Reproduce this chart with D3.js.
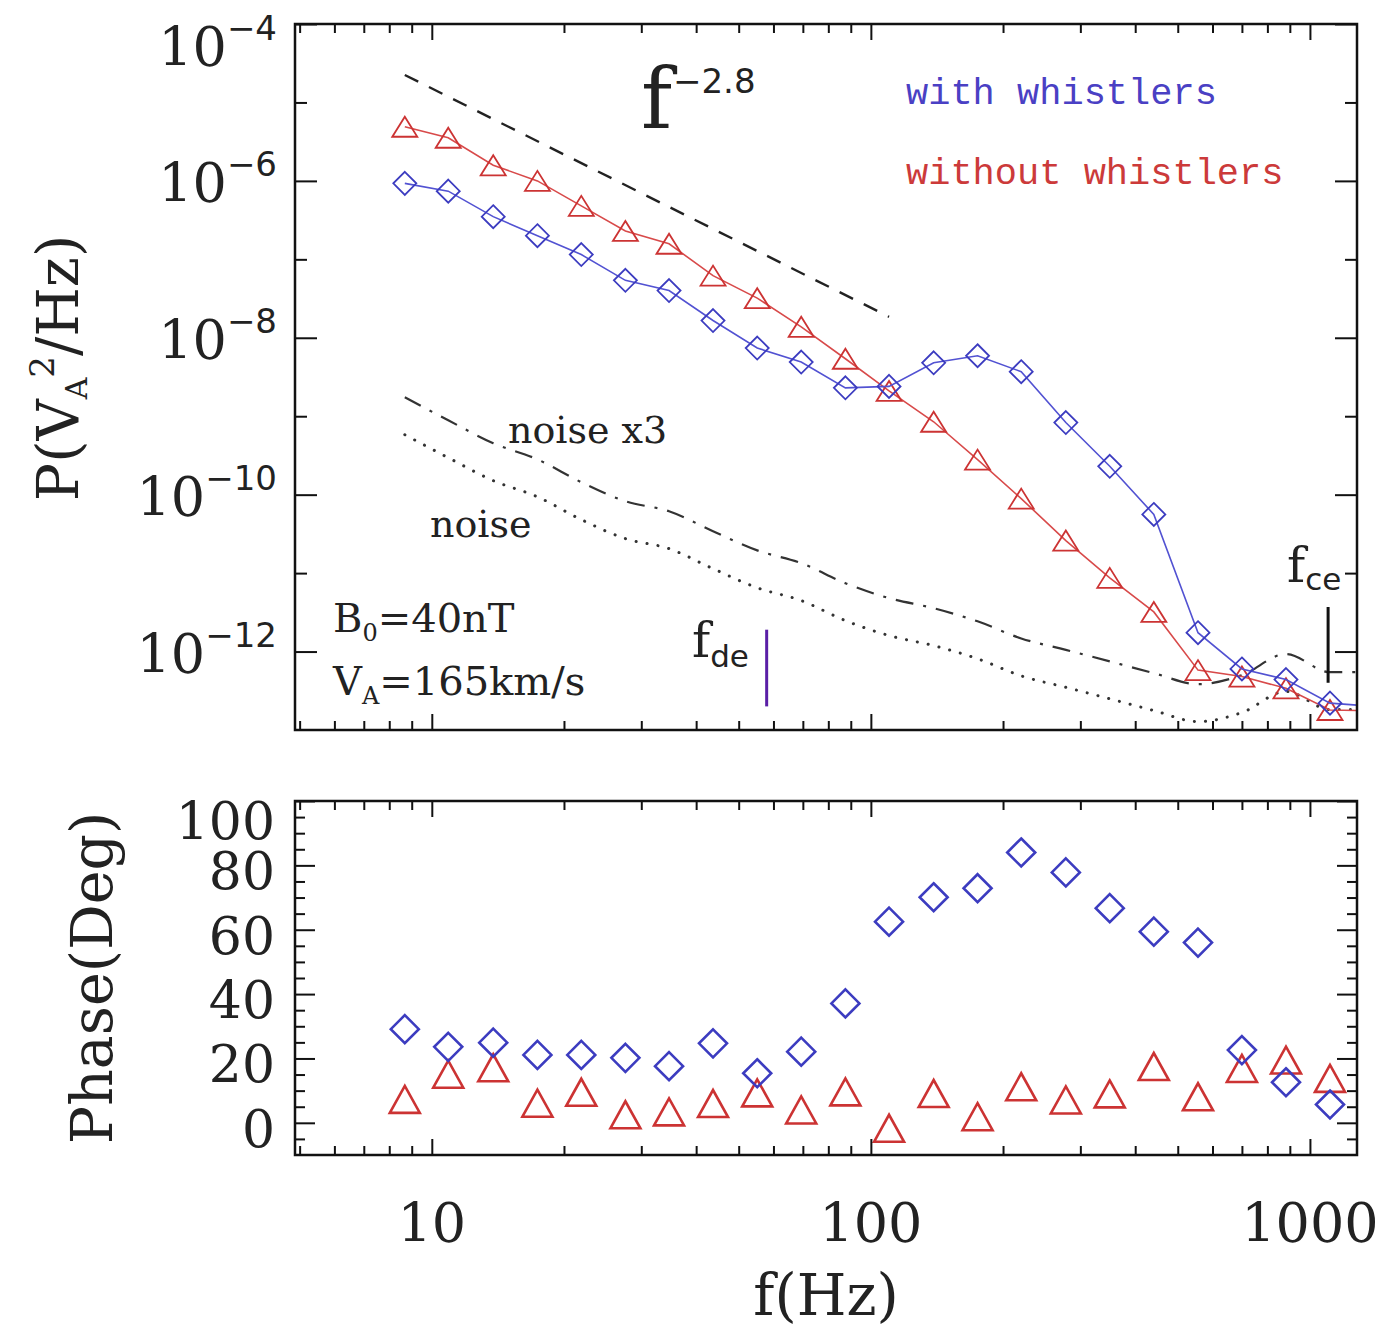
<!DOCTYPE html>
<html>
<head>
<meta charset="utf-8">
<script src="https://cdn.jsdelivr.net/npm/d3@7"></script>
<style>
  body { margin: 0; background: #fff; }
  svg text { fill: #222; }
  .tk line { stroke: #111; stroke-width: 2; }
</style>
</head>
<body>
<svg width="1383" height="1328"></svg>
<script>
// data: 1/3 octave bands (Hz); last band sits just past the right edge
var freq = [8.68, 10.9, 13.8, 17.4, 21.9, 27.6, 34.7, 43.7, 55.1, 69.4, 87.5, 110,
            139, 175, 220, 278, 350, 441, 556, 700, 882, 1111, 1400];

// power spectra P(VA^2/Hz)
var powWith = [9.3e-7, 7.4e-7, 3.5e-7, 2.0e-7, 1.15e-7, 5.4e-8, 4.0e-8, 1.66e-8, 7.4e-9, 4.9e-9,
               2.3e-9, 2.4e-9, 4.8e-9, 5.9e-9, 3.7e-9, 8.3e-10, 2.3e-10, 5.6e-11, 1.74e-12, 6.0e-13,
               4.4e-13, 2.2e-13, 2.0e-13];
var powWithout = [4.9e-6, 3.55e-6, 1.58e-6, 1.0e-6, 4.8e-7, 2.3e-7, 1.58e-7, 6.2e-8, 3.2e-8, 1.38e-8,
                  5.4e-9, 2.1e-9, 8.5e-10, 2.8e-10, 8.9e-11, 2.6e-11, 8.7e-12, 3.2e-12, 5.8e-13, 4.8e-13,
                  3.4e-13, 1.8e-13, 1.75e-13];
var noise = [5.81e-10, 2.96e-10, 1.51e-10, 9.4e-11, 4.81e-11, 2.75e-11, 2.05e-11, 1.14e-11, 6.5e-12, 4.47e-12,
             2.48e-12, 1.60e-12, 1.19e-12, 8.1e-13, 4.9e-13, 3.5e-13, 2.5e-13, 1.77e-13, 1.28e-13, 1.67e-13,
             3.1e-13, 1.82e-13, 1.82e-13];
var noiseX3 = noise.map(function(v) { return 3 * v; });

// phase (deg), one value per visible band
var phaseWith = [29.1, 23.6, 24.9, 21.1, 21.1, 20.2, 17.6, 24.7, 15.4, 22.1, 37.1,
                 62.5, 70.1, 72.9, 84.0, 77.8, 66.7, 59.4, 56.0, 22.6, 12.6, 5.7];
var phaseWithout = [7.3, 15.1, 17.1, 6.1, 9.5, 2.5, 3.4, 6.0, 9.3, 4.0, 9.6,
                    -1.7, 9.1, 1.9, 11.2, 7.1, 9.0, 17.5, 8.1, 16.9, 19.5, 13.8];

// f^-2.8 reference line end points
var slopeF = [8.68, 110];
var slopeP = [2.24e-5, 1.85e-8];

// characteristic frequencies and the extent of their markers
var fde = 57.9, fdeP = [1.9e-12, 2.0e-13];
var fce = 1100, fceP = [3.7e-12, 4.0e-13];

// ticks
var pTicks = [1e-4, 1e-6, 1e-8, 1e-10, 1e-12];
var pTickExp = ["\u22124", "\u22126", "\u22128", "\u221210", "\u221212"];
var pMinor = [1e-5, 1e-7, 1e-9, 1e-11];
var fTicks = [10, 100, 1000];
var fTickLabels = ["10", "100", "1000"];
var phTicks = [0, 20, 40, 60, 80, 100];
var phMinor = [-5, 5, 10, 15, 25, 30, 35, 45, 50, 55, 65, 70, 75, 85, 90, 95];

var blue = "#3c3cc0", blueLine = "#5252d2";
var red = "#cc3333", redLine = "#d84a4a";
var serif = "DejaVu Serif", sans = "DejaVu Sans";

var svg = d3.select("svg");
var left = 295, right = 1357,
    top1 = 24, bot1 = 730,
    top2 = 801, bot2 = 1155;

var x = d3.scaleLog().domain([4.88, 1280]).range([left, right]);
var y = d3.scaleLog().domain([1e-13, 1e-4]).range([bot1, top1]);
var yp = d3.scaleLinear().domain([-10, 100]).range([bot2, top2]);

var fMinor = [];
[1, 10, 100].forEach(function(d) {
  for (var m = 2; m <= 9; m++) {
    var v = m * d;
    if (v >= x.domain()[0] && v <= x.domain()[1]) fMinor.push(v);
  }
});

// inward ticks, no domain line (frame is drawn separately)
function tickSet(axis, vals, len, tx, ty) {
  svg.append("g")
    .attr("class", "tk")
    .attr("transform", "translate(" + tx + "," + ty + ")")
    .call(axis.tickValues(vals).tickSizeInner(-len).tickSizeOuter(0).tickFormat(""))
    .call(function(g) { g.select(".domain").remove(); });
}

function frame(y0, y1, yScale, yMaj, yMin, yMajLen, yMinLen) {
  tickSet(d3.axisBottom(x), fTicks, 16, 0, y1);
  tickSet(d3.axisBottom(x), fMinor, 9, 0, y1);
  tickSet(d3.axisTop(x), fTicks, 16, 0, y0);
  tickSet(d3.axisTop(x), fMinor, 9, 0, y0);
  tickSet(d3.axisLeft(yScale), yMaj, yMajLen, left, 0);
  tickSet(d3.axisLeft(yScale), yMin, yMinLen, left, 0);
  tickSet(d3.axisRight(yScale), yMaj, yMajLen, right, 0);
  tickSet(d3.axisRight(yScale), yMin, yMinLen, right, 0);
  svg.append("rect")
    .attr("x", left).attr("y", y0)
    .attr("width", right - left).attr("height", y1 - y0)
    .attr("fill", "none").attr("stroke", "#111").attr("stroke-width", 2.5);
}

function diamond(h) { return "M0," + (-h) + "L" + h + ",0L0," + h + "L" + (-h) + ",0Z"; }
function triangle(w, h) { return "M" + (-w) + "," + h + "L0," + (-h) + "L" + w + "," + h + "Z"; }

svg.append("clipPath").attr("id", "clip1")
  .append("rect").attr("x", left).attr("y", top1).attr("width", right - left).attr("height", bot1 - top1);
svg.append("clipPath").attr("id", "clip2")
  .append("rect").attr("x", left).attr("y", top2).attr("width", right - left).attr("height", bot2 - top2);

// ---------- top panel ----------
var p1 = svg.append("g").attr("clip-path", "url(#clip1)");

var line = d3.line().x(function(d) { return x(d[0]); }).y(function(d) { return y(d[1]); });
var smooth = d3.line().x(function(d) { return x(d[0]); }).y(function(d) { return y(d[1]); })
  .curve(d3.curveMonotoneX);

p1.append("path")
  .attr("d", smooth(freq.map(function(f, i) { return [f, noiseX3[i]]; })))
  .attr("fill", "none").attr("stroke", "#333").attr("stroke-width", 2.2)
  .attr("stroke-dasharray", "18,10,3,10");

p1.append("path")
  .attr("d", smooth(freq.map(function(f, i) { return [f, noise[i]]; })))
  .attr("fill", "none").attr("stroke", "#333").attr("stroke-width", 3)
  .attr("stroke-linecap", "round").attr("stroke-dasharray", "0.1,11");

p1.append("path")
  .attr("d", line(slopeF.map(function(f, i) { return [f, slopeP[i]]; })))
  .attr("fill", "none").attr("stroke", "#222").attr("stroke-width", 2.4)
  .attr("stroke-dasharray", "15,12");

var without = freq.map(function(f, i) { return [f, powWithout[i]]; });
var withW = freq.map(function(f, i) { return [f, powWith[i]]; });

p1.append("path").attr("d", line(without))
  .attr("fill", "none").attr("stroke", redLine).attr("stroke-width", 1.6);
p1.selectAll(".tri1").data(without).enter().append("path")
  .attr("class", "tri1")
  .attr("transform", function(d) { return "translate(" + x(d[0]) + "," + y(d[1]) + ")"; })
  .attr("d", triangle(12.5, 10))
  .attr("fill", "none").attr("stroke", red).attr("stroke-width", 1.8);

p1.append("path").attr("d", line(withW))
  .attr("fill", "none").attr("stroke", blueLine).attr("stroke-width", 1.6);
p1.selectAll(".dia1").data(withW).enter().append("path")
  .attr("class", "dia1")
  .attr("transform", function(d) { return "translate(" + x(d[0]) + "," + y(d[1]) + ")"; })
  .attr("d", diamond(11.5))
  .attr("fill", "none").attr("stroke", blue).attr("stroke-width", 1.8);

// f_de and f_ce markers
svg.append("line")
  .attr("x1", x(fde)).attr("x2", x(fde)).attr("y1", y(fdeP[0])).attr("y2", y(fdeP[1]))
  .attr("stroke", "#5a1fa6").attr("stroke-width", 3);
svg.append("line")
  .attr("x1", x(fce)).attr("x2", x(fce)).attr("y1", y(fceP[0])).attr("y2", y(fceP[1]))
  .attr("stroke", "#111").attr("stroke-width", 3);

frame(top1, bot1, y, pTicks, pMinor, 22, 12);

// y tick labels, top panel (top one pushed inside like the original)
pTicks.forEach(function(v, i) {
  var t = svg.append("text")
    .attr("x", 277).attr("y", y(v) + (i === 0 ? 42 : 21))
    .attr("text-anchor", "end")
    .style("font-family", serif).style("font-size", "54px");
  t.append("tspan").text("10");
  t.append("tspan").attr("dy", -26)
    .style("font-family", sans).style("font-size", "34px").text(pTickExp[i]);
});

// y label top
var yl = svg.append("text")
  .attr("transform", "translate(78," + 368 + ") rotate(-90)")
  .attr("text-anchor", "middle")
  .style("font-family", serif).style("font-size", "57px");
yl.append("tspan").text("P(V");
yl.append("tspan").attr("dy", 9).style("font-size", "30px").text("A");
yl.append("tspan").attr("dy", -33).style("font-size", "34px").text("2");
yl.append("tspan").attr("dy", 24).text("/Hz)");

// annotations
svg.append("text").attr("x", 641).attr("y", 128)
  .style("font-family", serif).style("font-size", "84px").text("f");
svg.append("text").attr("x", 673).attr("y", 93)
  .style("font-family", sans).style("font-size", "34px").text("\u22122.8");

svg.append("text").attr("x", 906).attr("y", 104)
  .style("font-family", "Liberation Mono").style("font-size", "37px")
  .style("fill", "#4a40c4").text("with whistlers");
svg.append("text").attr("x", 906).attr("y", 184)
  .style("font-family", "Liberation Mono").style("font-size", "37px")
  .style("fill", "#cc3a3a").text("without whistlers");

svg.append("text").attr("x", 508).attr("y", 443)
  .style("font-family", serif).style("font-size", "38px").text("noise x3");
svg.append("text").attr("x", 430).attr("y", 537)
  .style("font-family", serif).style("font-size", "38px").text("noise");

var b0 = svg.append("text").attr("x", 333).attr("y", 632)
  .style("font-family", serif).style("font-size", "40px");
b0.append("tspan").text("B");
b0.append("tspan").attr("dy", 9).style("font-size", "24px").text("0");
b0.append("tspan").attr("dy", -9).text("=40nT");

var va = svg.append("text").attr("x", 333).attr("y", 695)
  .style("font-family", serif).style("font-size", "40px");
va.append("tspan").text("V");
va.append("tspan").attr("dy", 9).style("font-size", "24px").text("A");
va.append("tspan").attr("dy", -9).text("=165km/s");

var tde = svg.append("text").attr("x", 692).attr("y", 657)
  .style("font-family", serif).style("font-size", "49px");
tde.append("tspan").text("f");
tde.append("tspan").attr("dy", 10).style("font-family", sans).style("font-size", "31px").text("de");

var tce = svg.append("text").attr("x", 1287).attr("y", 582)
  .style("font-family", serif).style("font-size", "49px");
tce.append("tspan").text("f");
tce.append("tspan").attr("dy", 8).style("font-family", sans).style("font-size", "31px").text("ce");

// ---------- bottom panel ----------
var p2 = svg.append("g").attr("clip-path", "url(#clip2)");

p2.selectAll(".tri2").data(phaseWithout).enter().append("path")
  .attr("class", "tri2")
  .attr("transform", function(d, i) { return "translate(" + x(freq[i]) + "," + yp(d) + ")"; })
  .attr("d", triangle(15, 13.5))
  .attr("fill", "none").attr("stroke", red).attr("stroke-width", 2.6);

p2.selectAll(".dia2").data(phaseWith).enter().append("path")
  .attr("class", "dia2")
  .attr("transform", function(d, i) { return "translate(" + x(freq[i]) + "," + yp(d) + ")"; })
  .attr("d", diamond(14))
  .attr("fill", "none").attr("stroke", blue).attr("stroke-width", 2.6);

frame(top2, bot2, yp, phTicks, phMinor, 20, 10);

phTicks.forEach(function(v) {
  svg.append("text")
    .attr("x", 275).attr("y", yp(v) + (v === 100 ? 38 : 24))
    .attr("text-anchor", "end")
    .style("font-family", serif).style("font-size", "52px")
    .text(v);
});

fTicks.forEach(function(v, i) {
  svg.append("text")
    .attr("x", x(v)).attr("y", 1242)
    .attr("text-anchor", "middle")
    .style("font-family", serif).style("font-size", "54px")
    .text(fTickLabels[i]);
});

svg.append("text")
  .attr("transform", "translate(112," + (top2 + bot2) / 2 + ") rotate(-90)")
  .attr("text-anchor", "middle")
  .style("font-family", serif).style("font-size", "57px")
  .text("Phase(Deg)");

svg.append("text")
  .attr("x", (left + right) / 2).attr("y", 1315)
  .attr("text-anchor", "middle")
  .style("font-family", serif).style("font-size", "57px")
  .text("f(Hz)");
</script>
</body>
</html>
